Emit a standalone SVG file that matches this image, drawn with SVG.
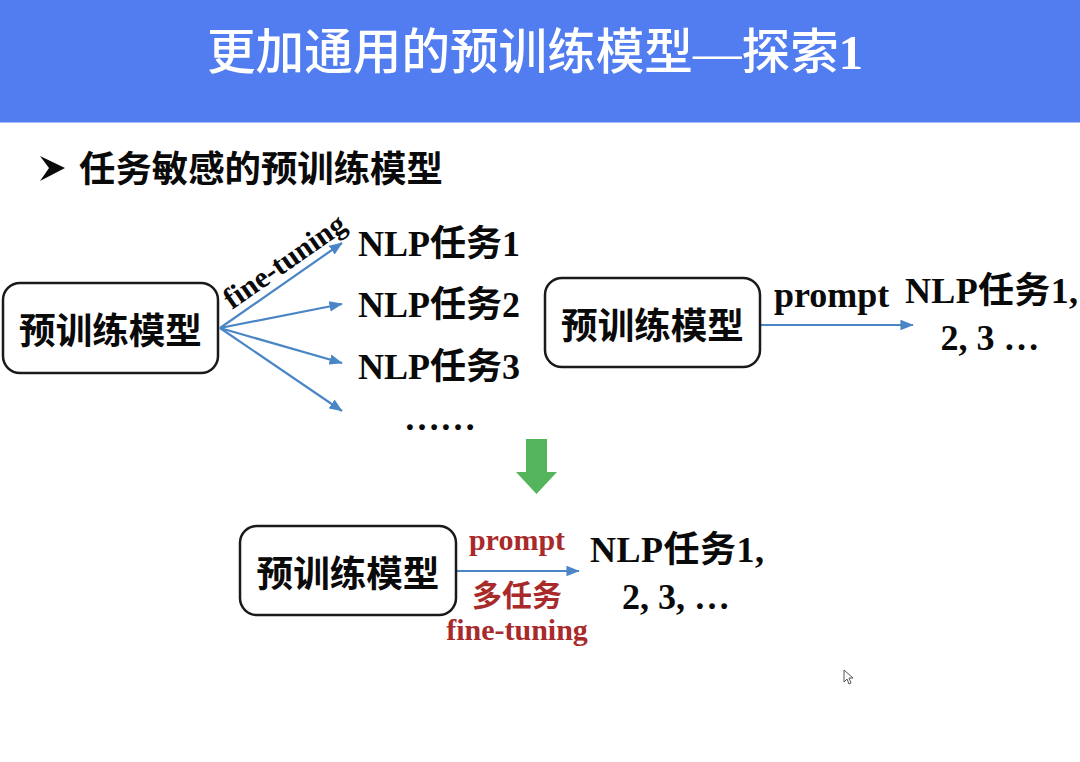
<svg xmlns="http://www.w3.org/2000/svg" width="1080" height="762" viewBox="0 0 1080 762">
<style>
text{font-family:"Liberation Serif","Noto Sans CJK SC",serif;font-weight:700;fill:#0a0a0a}
.t{font-size:36px}
.w{font-size:36.600px}
.m{text-anchor:middle}
.r{fill:#a92a2a;font-size:30px}
.box{fill:#fff;stroke:#1a1a1a;stroke-width:2.5}
.c{fill:none;stroke:#4a86c5;stroke-width:2.2;marker-end:url(#a)}
</style>
<defs><marker id="a" viewBox="0 0 10 8" refX="9.5" refY="4" markerWidth="6" markerHeight="5" markerUnits="strokeWidth" orient="auto"><path d="M0 0L10 4L0 8Z" fill="#4a86c5"/></marker></defs>
<rect width="1080" height="762" fill="#fff"/>
<g id="header"><rect width="1080" height="122.500" fill="#527df1"/>
<text x="207" y="69" style="font-size:48.600px;fill:#fff;font-weight:500">更加通用的预训练模型—探索<tspan style="font-weight:700">1</tspan></text></g>
<g id="subtitle"><path d="M40 156L65 168L40 181L49 168Z" fill="#0a0a0a"/><text x="79" y="182" style="font-size:36.400px">任务敏感的预训练模型</text></g>
<g id="connectors">
<path class="c" d="M220 328L342 243"/><path class="c" d="M220 328L342 304"/><path class="c" d="M220 328L342 363"/><path class="c" d="M220 328L342 411"/>
<path class="c" d="M761 325L913 325"/><path class="c" d="M457 571L579 571"/>
</g>
<g id="node-a"><rect class="box" x="3" y="283" width="215" height="90" rx="17"/><text class="w m" x="110.500" y="344">预训练模型</text></g>
<g id="node-b"><rect class="box" x="545" y="278" width="215" height="89" rx="17"/><text class="w m" x="652.500" y="339">预训练模型</text></g>
<g id="node-c"><rect class="box" x="240" y="526" width="216" height="89" rx="17"/><text class="w m" x="348" y="587">预训练模型</text></g>
<g id="labels">
<text x="0" y="0" transform="translate(232 310) rotate(-35)" style="font-size:30px">fine-tuning</text>
<text class="t" x="358" y="256">NLP任务1</text>
<text class="t" x="358" y="317">NLP任务2</text>
<text class="t" x="358" y="379">NLP任务3</text>
<text class="t m" x="440" y="430">……</text>
<text x="774" y="307" style="font-size:36px">prompt</text>
<text class="t" x="905" y="303" textLength="173">NLP任务1,</text>
<text class="t m" x="990" y="350">2, 3 …</text>
<text class="r m" x="517" y="550">prompt</text>
<text class="r m" x="517" y="606">多任务</text>
<text class="r m" x="517" y="640">fine-tuning</text>
<text class="t" x="590" y="562" textLength="174">NLP任务1,</text>
<text class="t m" x="676" y="609">2, 3, …</text>
</g>
<g id="down-arrow"><path d="M526 439H547V472H557L536.500 494L516 472H526Z" fill="#54b45c"/></g>
<g id="cursor"><path d="M844 670V682L847 679L849 684L851 683L849 678L853 678Z" fill="#fff" stroke="#555" stroke-width="1"/></g>
</svg>
